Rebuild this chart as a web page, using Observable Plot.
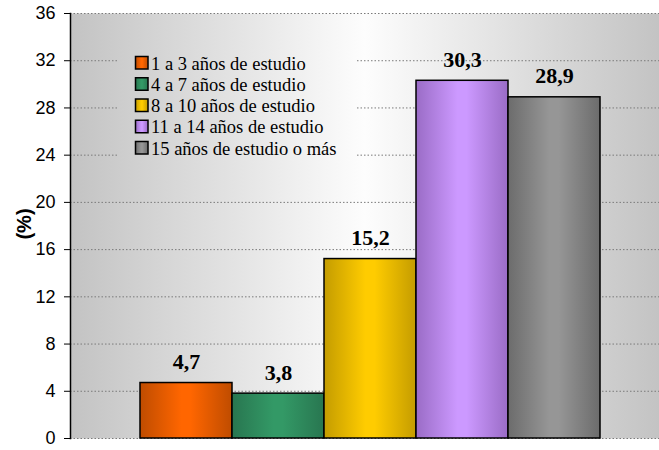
<!DOCTYPE html>
<html>
<head>
<meta charset="utf-8">
<script src="https://cdn.jsdelivr.net/npm/d3@7"></script>
<script src="https://cdn.jsdelivr.net/npm/@observablehq/plot@0.6"></script>
<style>
  html, body { margin: 0; padding: 0; background: white; }
  #chart { width: 659px; height: 450px; }
  .serif, .serif text { font-family: "Liberation Serif", "Times New Roman", "DejaVu Serif", serif !important; }
</style>
</head>
<body>
<div id="chart"></div>
<script>
// ---- data ----
const categories = [
  "1 a 3 años de estudio",
  "4 a 7 años de estudio",
  "8 a 10 años de estudio",
  "11 a 14 años de estudio",
  "15 años de estudio o más"
];
const values = [4.7, 3.8, 15.2, 30.3, 28.9];
const valueLabels = ["4,7", "3,8", "15,2", "30,3", "28,9"];
const yTicks = [0, 4, 8, 12, 16, 20, 24, 28, 32, 36];
const yLabel = "(%)";
// ---- styles ----
const centerColors = ["#ff6600", "#339966", "#ffcc00", "#cc99ff", "#969696"];
const edgeColors   = ["#bf4c00", "#287650", "#c49c00", "#9a6cc6", "#6c6c6c"];

const table = categories.map((c, i) => ({cat: c, value: values[i], label: valueLabels[i], i}));

const W = 659, H = 450;
const mL = 70, mR = 0, mT = 13, mB = 12;

const barMarks = table.map(d =>
  Plot.barY([d], {x: "cat", y: "value", fill: `url(#bar${d.i})`, stroke: "black", strokeWidth: 1.5})
);

const svg = Plot.plot({
  width: W,
  height: H,
  marginLeft: mL,
  marginRight: mR,
  marginTop: mT,
  marginBottom: mB,
  style: {fontFamily: "'Liberation Sans', Arial, sans-serif", fontSize: "18px", color: "black", background: "white", overflow: "visible"},
  x: {domain: categories, range: [139, 601], padding: 0, axis: null},
  y: {domain: [0, 36], axis: null},
  marks: [
    Plot.frame({fill: "url(#bg)"}),
    Plot.gridY(yTicks, {stroke: "#7a7a7a", strokeOpacity: 1, strokeDasharray: "1.5,2", strokeWidth: 1}),
    Plot.axisY(yTicks, {tickSize: 6, tickPadding: 9, stroke: "black", fill: "black", fontSize: 18, label: null, tickFormat: d => String(d)}),
    Plot.frame({anchor: "left", stroke: "black", strokeWidth: 1.5}),
    ...barMarks,
    Plot.text(table, {x: "cat", y: "value", text: "label", dy: -21, fontWeight: "bold", fontSize: 22,
      className: "serif", fontFamily: "'Liberation Serif', 'Times New Roman', serif", fill: "black"})
  ]
});

const s = d3.select(svg);
const defs = s.insert("defs", ":first-child");
const bg = defs.append("linearGradient").attr("id", "bg")
  .attr("gradientUnits", "userSpaceOnUse")
  .attr("x1", mL).attr("x2", W).attr("y1", 0).attr("y2", 0);
bg.append("stop").attr("offset", 0).attr("stop-color", "#c3c3c3");
bg.append("stop").attr("offset", 0.5).attr("stop-color", "#fdfdfd");
bg.append("stop").attr("offset", 1).attr("stop-color", "#c3c3c3");
categories.forEach((c, i) => {
  const g = defs.append("linearGradient").attr("id", `bar${i}`)
    .attr("x1", 0).attr("x2", 1).attr("y1", 0).attr("y2", 0);
  g.append("stop").attr("offset", 0).attr("stop-color", edgeColors[i]);
  g.append("stop").attr("offset", 0.45).attr("stop-color", centerColors[i]);
  g.append("stop").attr("offset", 0.55).attr("stop-color", centerColors[i]);
  g.append("stop").attr("offset", 1).attr("stop-color", edgeColors[i]);
});

// legend (inside plot area, over gridlines)
const lg = s.append("g").attr("class", "legend serif").attr("text-anchor", "start");
lg.append("rect").attr("x", 117).attr("y", 49).attr("width", 238).attr("height", 114).attr("fill", "url(#bg)");
categories.forEach((c, i) => {
  const cy = 62.5 + i * 21.25;
  lg.append("rect").attr("x", 135.5).attr("y", cy - 6).attr("width", 12.5).attr("height", 12.5)
    .attr("fill", `url(#bar${i})`).attr("stroke", "black").attr("stroke-width", 1.5);
  lg.append("text").attr("x", 151).attr("y", cy + 7)
    .attr("text-anchor", "start")
    .style("font-size", "18.5px").attr("fill", "black").text(c);
});

// y axis title
s.append("text").attr("transform", "translate(24,224) rotate(-90)")
  .attr("text-anchor", "middle").attr("dy", "0.35em")
  .attr("font-family", "'Liberation Sans', Arial, sans-serif")
  .attr("font-weight", "bold").attr("font-size", 20).attr("fill", "black").text(yLabel);

document.getElementById("chart").appendChild(svg);
</script>
</body>
</html>
